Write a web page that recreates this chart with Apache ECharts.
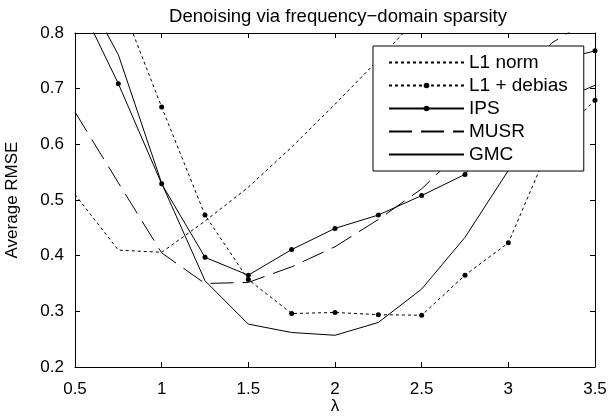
<!DOCTYPE html>
<html>
<head>
<meta charset="utf-8">
<script src="https://cdn.jsdelivr.net/npm/echarts@6/dist/echarts.min.js"></script>
<style>
html,body{margin:0;padding:0;background:#fff;}
#c{width:610px;height:419px;}
</style>
</head>
<body>
<div id="c"></div>
<script>
const lambdas = [0.5, 0.75, 1, 1.25, 1.5, 1.75, 2, 2.25, 2.5, 2.75, 3, 3.25, 3.5];
const l1Norm   = [0.51, 0.41, 0.406, 0.462, 0.523, 0.595, 0.672, 0.752, 0.835, 0.92, 1.0, 1.08, 1.16];
const l1Debias = [1.07, 0.867, 0.667, 0.473, 0.357, 0.296, 0.298, 0.294, 0.293, 0.365, 0.423, 0.605, 0.679];
const ips      = [0.87, 0.709, 0.529, 0.397, 0.365, 0.411, 0.449, 0.473, 0.508, 0.546, 0.65, 0.748, 0.768];
const musr     = [0.658, 0.531, 0.405, 0.35, 0.352, 0.38, 0.416, 0.465, 0.52, 0.595, 0.69, 0.782, 0.83];
const gmc      = [0.905, 0.761, 0.53, 0.355, 0.277, 0.262, 0.257, 0.28, 0.34, 0.433, 0.553, 0.673, 0.706];
const seriesNames = ['L1 norm', 'L1 + debias', 'IPS', 'MUSR', 'GMC'];
const hasMarker = [false, true, true, false, false];
const xTicks = {min: 0.5, max: 3.5, interval: 0.5};
const yTicks = {min: 0.2, max: 0.8, interval: 0.1};
const titleText = 'Denoising via frequency\u2212domain sparsity';
const xName = '\u03bb';
const yName = 'Average RMSE';

const FONT = 'Liberation Sans';
const pair = arr => lambdas.map((x, i) => [x, arr[i]]);

function mkSeries(name, arr, dash, marker) {
  return {
    name: name, type: 'line', data: pair(arr),
    symbol: marker ? 'circle' : 'none', symbolSize: 5, showSymbol: marker,
    clip: true, silent: true,
    lineStyle: {color: '#000', width: 1, type: dash},
    itemStyle: {color: '#000'},
    emphasis: {disabled: true}
  };
}

const chart = echarts.init(document.getElementById('c'), null, {renderer: 'canvas'});
const axisCommon = {
  axisLine: {show: true, lineStyle: {color: '#000', width: 1}},
  axisTick: {show: true, inside: true, length: 5, lineStyle: {color: '#000'}},
  splitLine: {show: false}
};
chart.setOption({
  animation: false,
  backgroundColor: '#fff',
  title: {
    text: titleText, left: 333, top: 2, textAlign: 'center',
    textStyle: {fontFamily: FONT, fontSize: 18.5, fontWeight: 'normal', color: '#000'}
  },
  grid: {left: 75, right: 15, top: 33, bottom: 52, containLabel: false, outerBoundsMode: 'none'},
  legend: {
    orient: 'vertical', left: 373, top: 46,
    data: seriesNames.map((n, i) => hasMarker[i] ? {name: n} : {name: n, itemStyle: {opacity: 0}}),
    itemWidth: 75, itemHeight: 7, itemGap: 4,
    padding: [7, 16, 7, 15],
    backgroundColor: '#fff', borderColor: '#000', borderWidth: 1,
    selectedMode: false,
    textStyle: {fontFamily: FONT, fontSize: 19, color: '#000'}
  },
  xAxis: [
    Object.assign({type: 'value', position: 'bottom', min: xTicks.min, max: xTicks.max, interval: xTicks.interval,
      name: xName, nameLocation: 'middle', nameGap: 31, nameMoveOverlap: false,
      nameTextStyle: {fontFamily: FONT, fontSize: 17, color: '#000'},
      axisLabel: {fontFamily: FONT, fontSize: 17, color: '#000', margin: 14}}, axisCommon),
    Object.assign({type: 'value', position: 'top', min: xTicks.min, max: xTicks.max, interval: xTicks.interval,
      axisLabel: {show: false}}, axisCommon)
  ],
  yAxis: [
    Object.assign({type: 'value', position: 'left', min: yTicks.min, max: yTicks.max, interval: yTicks.interval,
      name: yName, nameLocation: 'middle', nameGap: 54,
      nameTextStyle: {fontFamily: FONT, fontSize: 17, color: '#000'},
      axisLabel: {fontFamily: FONT, fontSize: 17, color: '#000', margin: 11}}, axisCommon),
    Object.assign({type: 'value', position: 'right', min: yTicks.min, max: yTicks.max, interval: yTicks.interval,
      axisLabel: {show: false}}, axisCommon)
  ],
  series: [
    mkSeries(seriesNames[0], l1Norm, [3, 3], false),
    mkSeries(seriesNames[1], l1Debias, [3, 3], true),
    mkSeries(seriesNames[2], ips, 'solid', true),
    mkSeries(seriesNames[3], musr, [23, 9], false),
    mkSeries(seriesNames[4], gmc, 'solid', false)
  ]
});
</script>
</body>
</html>
